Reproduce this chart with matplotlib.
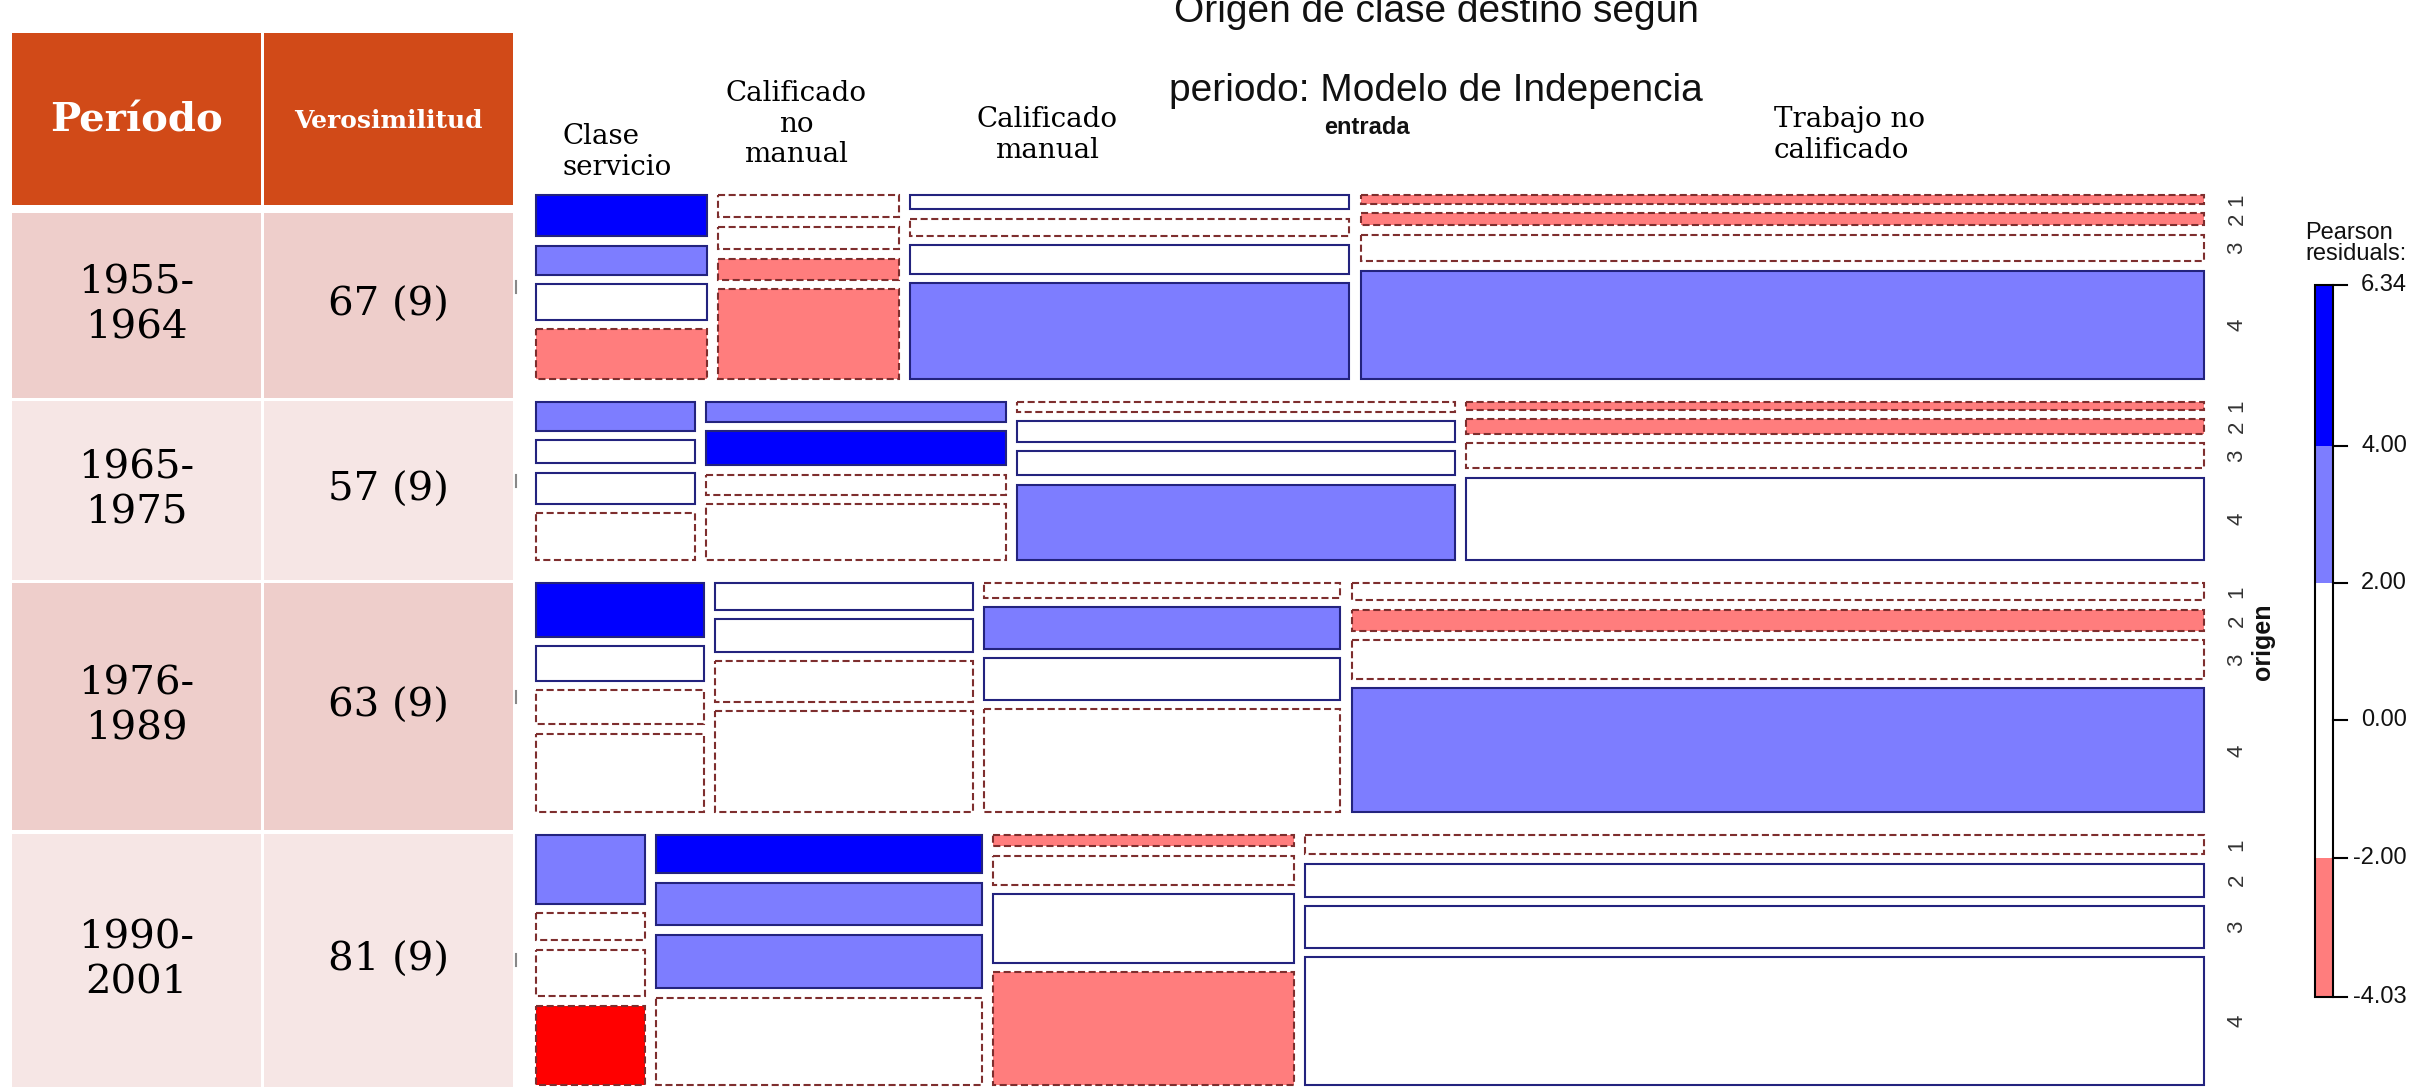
import matplotlib
matplotlib.use('Agg')
import matplotlib.pyplot as plt
from matplotlib.patches import Rectangle
from matplotlib import font_manager

# ---- data ----
periodos = ['1955-1964', '1965-1975', '1976-1989', '1990-2001']
verosimilitud = ['67 (9)', '57 (9)', '63 (9)', '81 (9)']
destino = ['Clase\nservicio', 'Calificado\nno\nmanual', 'Calificado\nmanual', 'Trabajo no\ncalificado']
origen = ['1', '2', '3', '4']

# relative size of each period block
peso_periodo = [155, 128, 200, 220]
# width of each destination column inside each period
ancho_destino = [[171, 181, 439, 843],
                 [159, 299, 437, 736],
                 [168, 257, 356, 851],
                 [109, 325, 300, 897]]
# height of each origin cell inside each destination column
alto_origen = [
    [[41, 29, 35, 50], [22, 22, 21, 89], [14, 17, 28, 95], [9, 12, 27, 110]],
    [[28, 23, 31, 46], [19, 33, 20, 54], [9, 20, 23, 72], [7, 14, 24, 79]],
    [[54, 34, 34, 78], [27, 32, 40, 100], [15, 41, 41, 102], [18, 21, 39, 125]],
    [[68, 27, 46, 79], [38, 42, 53, 87], [11, 29, 68, 112], [19, 33, 42, 128]],
]
# approximate Pearson residual of each cell (only the shading band is visible)
residuos = [
    [[5.0, 3.0, 1.0, -3.0], [-1.0, -1.0, -3.0, -3.0], [1.0, -1.0, 1.0, 3.0], [-3.0, -3.0, -1.0, 3.0]],
    [[3.0, 1.0, 1.0, -1.0], [3.0, 5.0, -1.0, -1.0], [-1.0, 1.0, 1.0, 3.0], [-3.0, -3.0, -1.0, 1.0]],
    [[5.0, 1.0, -1.0, -1.0], [1.0, 1.0, -1.0, -1.0], [-1.0, 3.0, 1.0, -1.0], [-1.0, -3.0, -1.0, 3.0]],
    [[3.0, -1.0, -1.0, -4.03], [6.34, 3.0, 3.0, -1.0], [-3.0, -1.0, 1.0, -3.0], [-1.0, 1.0, 1.0, 1.0]],
]
cortes = [-4.03, -2.0, 2.0, 4.0, 6.34]

# ---- fonts ----
nombres = {f.name for f in font_manager.fontManager.ttflist}
if 'Liberation Sans Narrow' in nombres:
    NARROW, TSIZE, LSIZE = 'Liberation Sans Narrow', 34, 20
else:
    NARROW, TSIZE, LSIZE = 'Liberation Sans', 28, 17
SERIF = 'DejaVu Serif'

AZUL, AZUL_CL, ROJO_CL, ROJO = '#0000FF', '#7D7DFF', '#FF7D7D', '#FF0000'
BORDE_POS, BORDE_NEG = '#23237E', '#7E2E2E'


def color_residuo(r):
    if r > 4:
        return AZUL
    if r > 2:
        return AZUL_CL
    if r >= -2:
        return 'white'
    if r >= -4:
        return ROJO_CL
    return ROJO


fig = plt.figure(figsize=(24.35, 10.87), dpi=100)
ax = fig.add_axes([0, 0, 1, 1])
ax.set_xlim(0, 2435)
ax.set_ylim(1087, 0)
ax.axis('off')

# ---- table on the left ----
tab_x = [(12, 261), (264, 513)]
tab_y = [(33, 205), (213, 398), (401, 580), (583, 830), (834, 1095)]
HEADER = '#D14A18'
filas = ['#EECECB', '#F6E6E5']

for (x0, x1), txt, fs in zip(tab_x, ['Período', 'Verosimilitud'], [29, 18]):
    y0, y1 = tab_y[0]
    ax.add_patch(Rectangle((x0, y0), x1 - x0, y1 - y0, facecolor=HEADER, edgecolor='none'))
    ax.text((x0 + x1) / 2, (y0 + y1) / 2 + 2, txt, ha='center', va='center', color='white',
            fontsize=fs, fontweight='bold', family=SERIF)

for i, (per, ver) in enumerate(zip(periodos, verosimilitud)):
    y0, y1 = tab_y[i + 1]
    for (x0, x1), txt in zip(tab_x, [per.replace('-', '-\n'), ver]):
        ax.add_patch(Rectangle((x0, y0), x1 - x0, y1 - y0, facecolor=filas[i % 2], edgecolor='none'))
        ax.text((x0 + x1) / 2, (y0 + min(y1, 1087)) / 2, txt, ha='center', va='center',
                fontsize=29, family=SERIF, linespacing=1.3, color='black')

# ---- mosaic ----
MX0, MX1, MY0, MY1 = 535.6, 2204, 195, 1085
GAP_P, GAP_C, GAP_O = 23, 11.2, 9.5
alto_cont = (MY1 - MY0) - 3 * GAP_P - 12 * GAP_O
ancho_cont = (MX1 - MX0) - 3 * GAP_C

y = MY0
for p in range(len(periodos)):
    bloque = peso_periodo[p] / sum(peso_periodo) * alto_cont
    x = MX0
    for c in range(len(destino)):
        w = ancho_destino[p][c] / sum(ancho_destino[p]) * ancho_cont
        yy = y
        for o in range(len(origen)):
            h = alto_origen[p][c][o] / sum(alto_origen[p][c]) * bloque
            r = residuos[p][c][o]
            if r >= 0:
                ax.add_patch(Rectangle((x, yy), w, h, facecolor=color_residuo(r),
                                       edgecolor=BORDE_POS, lw=1.5))
            else:
                ax.add_patch(Rectangle((x, yy), w, h, facecolor=color_residuo(r),
                                       edgecolor=BORDE_NEG, lw=1.5, linestyle=(0, (3.4, 1.7))))
            if c == len(destino) - 1:
                ax.text(2237, yy + h / 2, origen[o], rotation=90, ha='center', va='center',
                        fontsize=16, color='#333333', family='Liberation Sans')
            yy += h + GAP_O
        x += w + GAP_C
    # leftover marks of the cropped period labels
    ax.plot([516, 516], [y + bloque / 2 + 8, y + bloque / 2 + 20], color='#888888', lw=1.5)
    y += bloque + 3 * GAP_O + GAP_P

# column headers
ax.text(562, 152, destino[0], ha='left', va='center', fontsize=20, family=SERIF, linespacing=1.15)
ax.text(796, 124, destino[1], ha='center', va='center', fontsize=20, family=SERIF, linespacing=1.15)
ax.text(1047, 135, destino[2], ha='center', va='center', fontsize=20, family=SERIF, linespacing=1.15)
ax.text(1774, 135, destino[3], ha='left', va='center', fontsize=20, family=SERIF, linespacing=1.15)

# title (top line cropped by the screenshot)
ax.text(1436, 22, 'Origen de clase destino según', ha='center', va='baseline',
        fontsize=TSIZE, family=NARROW, color='#111111')
ax.text(1436, 101, 'periodo: Modelo de Indepencia', ha='center', va='baseline',
        fontsize=TSIZE, family=NARROW, color='#111111')
ax.text(1367, 127, 'entrada', ha='center', va='center', fontsize=LSIZE,
        family=NARROW, fontweight='bold', color='#111111')
ax.text(2263, 642, 'origen', rotation=90, ha='center', va='center', fontsize=LSIZE + 1,
        family=NARROW, fontweight='bold', color='#111111')

# ---- legend ----
LX0, LX1, LY0, LY1 = 2315, 2333, 285, 997
vmin, vmax = cortes[0], cortes[-1]


def leg_y(v):
    return LY0 + (vmax - v) / (vmax - vmin) * (LY1 - LY0)


for lo, hi in zip(cortes[:-1], cortes[1:]):
    ax.add_patch(Rectangle((LX0, leg_y(hi)), LX1 - LX0, leg_y(lo) - leg_y(hi),
                           facecolor=color_residuo((lo + hi) / 2), edgecolor='none'))
ax.add_patch(Rectangle((LX0, LY0), LX1 - LX0, LY1 - LY0, facecolor='none', edgecolor='black', lw=1.5))
for v in [vmax, 4.0, 2.0, 0.0, -2.0, vmin]:
    ax.plot([LX1, LX1 + 14], [leg_y(v), leg_y(v)], color='black', lw=1.5)
    ax.text(2407, leg_y(v), '%.2f' % v, ha='right', va='center', fontsize=LSIZE,
            family=NARROW, color='#111111')
ax.text(2305, 260, 'Pearson\nresiduals:', ha='left', va='baseline', fontsize=LSIZE,
        family=NARROW, linespacing=0.95, color='#111111')

fig.savefig('out.png', dpi=100)
